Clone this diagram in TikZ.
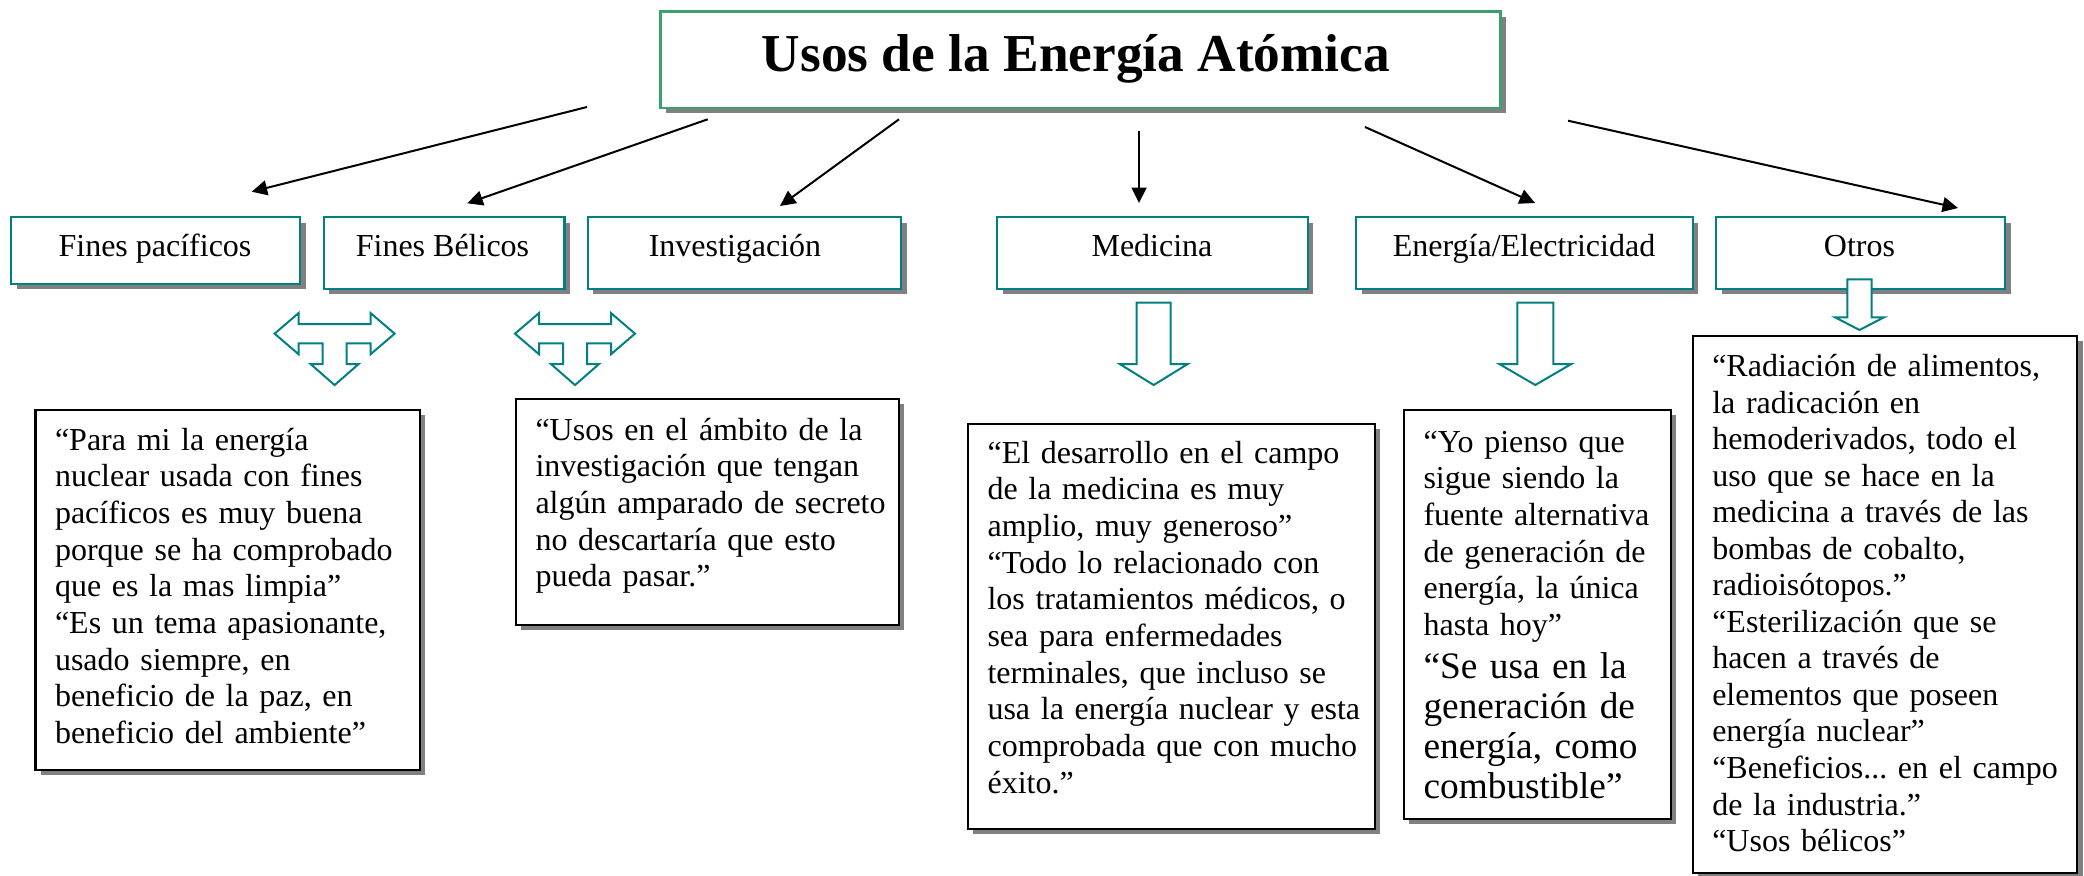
\documentclass[tikz,border=0pt]{standalone}
\usepackage{fontspec}
\setmainfont{Liberation Serif}
\usetikzlibrary{arrows.meta,shadows}
\definecolor{tealc}{RGB}{0,128,128}
\definecolor{titlec}{RGB}{60,160,110}
\definecolor{shadowc}{RGB}{128,128,128}
\frenchspacing
\newcommand\hdown[6]{%
  \draw[hollow] (#1-#2,#4) -- (#1+#2,#4) -- (#1+#2,#5) -- (#1+#3,#5) -- (#1,#6) -- (#1-#3,#5) -- (#1-#2,#5) -- cycle;}
\begin{document}
\begin{tikzpicture}[x=0.375pt,y=-0.375pt,
  shadowed/.style={drop shadow={shadow xshift=2pt,shadow yshift=-2pt,fill=shadowc,opacity=1}},
  titlebox/.style={draw=titlec,line width=1pt,fill=white,shadowed,inner sep=0pt,anchor=north west},
  catbox/.style={draw=tealc,line width=0.9pt,fill=white,shadowed,inner sep=0pt,anchor=north west},
  quotebox/.style={draw=black,line width=0.8pt,fill=white,shadowed,inner sep=0pt,anchor=north west},
  cattext/.style={anchor=base,inner sep=0pt,font=\fontsize{12}{14}\selectfont},
  quote/.style={anchor=base west,inner sep=0pt,align=left,text width=220pt,font=\fontsize{12}{13.75}\selectfont\frenchspacing},
  bigquote/.style={anchor=base west,inner sep=0pt,align=left,text width=220pt,font=\fontsize{14}{15}\selectfont},
  arr/.style={line width=0.75pt,-{Triangle[length=5.8pt,width=5.6pt]}},
  hollow/.style={draw=tealc,line width=0.75pt,fill=white,line join=miter},
  tarrow/.pic={\draw[hollow] (-60,0) -- (-36,-20.6) -- (-36,-9.6) -- (36,-9.6) -- (36,-20.6) -- (60,0) -- (36,20.6) -- (36,9.6) -- (12,9.6) -- (12,30.4) -- (24,30.4) -- (0,51.4) -- (-24,30.4) -- (-12,30.4) -- (-12,9.6) -- (-36,9.6) -- (-36,20.6) -- cycle;}
]
\fill[white] (0,0) rectangle (2084,875);
\useasboundingbox (0,0) rectangle (2084,875);

% quote boxes
\node[quotebox,minimum width=144.2pt,minimum height=135pt] (q1) at (34.4,409) {};
\node[quotebox,minimum width=143.6pt,minimum height=84.75pt] (q2) at (515,398) {};
\node[quotebox,minimum width=152.8pt,minimum height=152pt] (q3) at (966.5,422.7) {};
\node[quotebox,minimum width=100.1pt,minimum height=153.3pt] (q4) at (1403,409) {};
\node[quotebox,minimum width=144.2pt,minimum height=201.4pt] (q5) at (1691.7,335) {};

\node[quote] (q1t) at (54.5,450) {“Para mi la energía\\nuclear usada con fines\\pacíficos es muy buena\\porque se ha comprobado\\que es la mas limpia”\\“Es un tema apasionante,\\usado siempre, en\\beneficio de la paz, en\\beneficio del ambiente”};
\node[quote] (q2t) at (535,440) {“Usos en el ámbito de la\\investigación que tengan\\algún amparado de secreto\\no descartaría que esto\\pueda pasar.”};
\node[quote] (q3t) at (987,463.3) {“El desarrollo en el campo\\de la medicina es muy\\amplio, muy generoso”\\“Todo lo relacionado con\\los tratamientos médicos, o\\sea para enfermedades\\terminales, que incluso se\\usa la energía nuclear y esta\\comprobada que con mucho\\éxito.”};
\node[quote] (q4t) at (1423,452) {“Yo pienso que\\sigue siendo la\\fuente alternativa\\de generación de\\energía, la única\\hasta hoy”};
\node[bigquote] (q4b) at (1423,678) {“Se usa en la\\generación de\\energía, como\\combustible”};
\node[quote,font=\fontsize{12}{13.7}\selectfont\frenchspacing] (q5t) at (1711.7,376.6) {“Radiación de alimentos,\\la radicación en\\hemoderivados, todo el\\uso que se hace en la\\medicina a través de las\\bombas de cobalto,\\radioisótopos.”\\“Esterilización que se\\hacen a través de\\elementos que poseen\\energía nuclear”\\“Beneficios... en el campo\\de la industria.”\\“Usos bélicos”};

% category boxes
\node[catbox,minimum width=108.4pt,minimum height=25pt] (cat1) at (10,216) {};
\node[catbox,minimum width=90.3pt,minimum height=26.9pt] (cat2) at (322.5,216) {};
\node[catbox,minimum width=117.5pt,minimum height=26.9pt] (cat3) at (586.7,216) {};
\node[catbox,minimum width=116.6pt,minimum height=26.9pt] (cat4) at (996,216) {};
\node[catbox,minimum width=126.3pt,minimum height=26.9pt] (cat5) at (1355,216) {};
\node[catbox,minimum width=108.4pt,minimum height=26.9pt] (cat6) at (1715,216) {};

\node[cattext] (c1t) at (155,256.7) {Fines pacíficos};
\node[cattext] (c2t) at (442.5,256.7) {Fines Bélicos};
\node[cattext] (c3t) at (735,256.7) {Investigación};
\node[cattext] (c4t) at (1152,256.7) {Medicina};
\node[cattext] (c5t) at (1524,256.7) {Energía/Electricidad};
\node[cattext] (c6t) at (1859.5,256.7) {Otros};

% title
\node[titlebox,minimum width=315pt,minimum height=36.2pt] (title) at (659,10) {};
\node[anchor=base,inner sep=0pt,font=\fontsize{20}{24}\selectfont\bfseries] (titlet) at (1076,71.7) {Usos de la Energía Atómica};

% black arrows
\coordinate (s1) at (587,107);   \coordinate (e1) at (251.7,191.7);
\coordinate (s2) at (707.7,119.3); \coordinate (e2) at (467.3,203.3);
\coordinate (s3) at (899,119.3); \coordinate (e3) at (780,206);
\coordinate (s4) at (1139,131);  \coordinate (e4) at (1139,203);
\coordinate (s5) at (1365,127);  \coordinate (e5) at (1535,203);
\coordinate (s6) at (1568,120.7); \coordinate (e6) at (1958,208);
\draw[arr] (s1) -- (e1);
\draw[arr] (s2) -- (e2);
\draw[arr] (s3) -- (e3);
\draw[arr] (s4) -- (e4);
\draw[arr] (s5) -- (e5);
\draw[arr] (s6) -- (e6);

% hollow arrows
\pic at (334.6,333.65) {tarrow};
\pic at (575,333.65) {tarrow};
\hdown{1153.7}{17}{34}{302.7}{364}{385}
\hdown{1535.3}{18}{36}{302.7}{364}{385}
\hdown{1859.5}{12.2}{24.5}{279.3}{317.3}{330}
\end{tikzpicture}
\end{document}
